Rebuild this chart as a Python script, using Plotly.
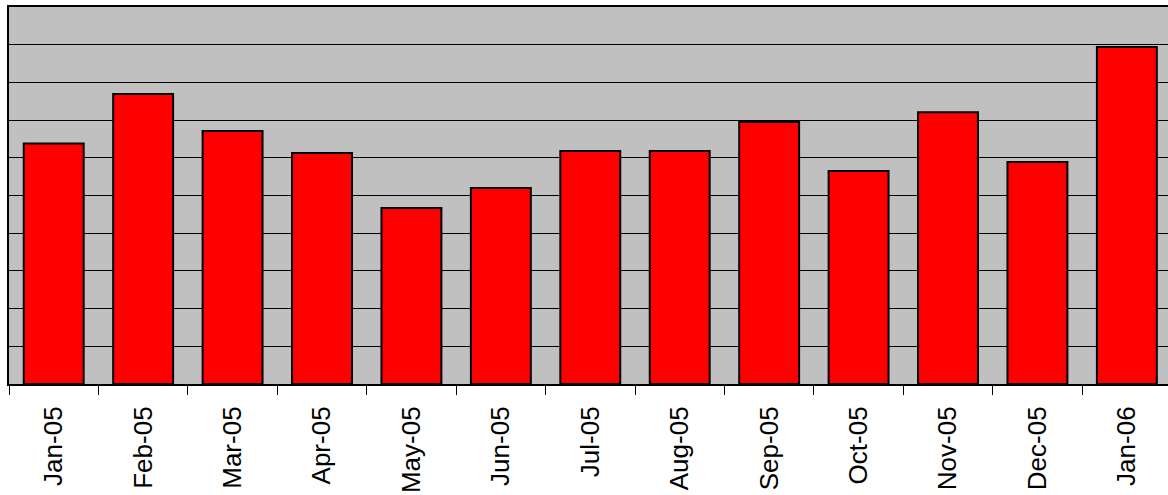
import plotly.graph_objects as go

months = ["Jan-05", "Feb-05", "Mar-05", "Apr-05", "May-05", "Jun-05", "Jul-05",
          "Aug-05", "Sep-05", "Oct-05", "Nov-05", "Dec-05", "Jan-06"]
values = [6.38, 7.69, 6.71, 6.13, 4.67, 5.20, 6.18, 6.18, 6.95, 5.65, 7.21, 5.89, 8.94]

fig = go.Figure(go.Bar(
    x=months, y=values,
    marker=dict(color="#FF0000", line=dict(color="#000000", width=2)),
))

fig.update_layout(
    width=1168, height=495,
    margin=dict(l=9, r=0, t=7, b=111),
    paper_bgcolor="white",
    plot_bgcolor="#C0C0C0",
    bargap=0.33,
    showlegend=False,
    font=dict(family="Liberation Sans, Arial, sans-serif", color="black"),
)
fig.update_xaxes(
    range=[-0.5, 12.46],
    showline=True, linecolor="black", linewidth=2, mirror=True,
    ticks="outside", tickson="boundaries", ticklen=9, tickcolor="black", tickwidth=1,
    tickangle=-90, tickfont=dict(size=26), ticklabelstandoff=10,
    showgrid=False,
)
fig.update_yaxes(
    range=[0, 10], dtick=1,
    showline=True, linecolor="black", linewidth=2,
    showticklabels=False, ticks="",
    showgrid=True, gridcolor="black", gridwidth=1,
    zeroline=False,
)

fig.write_html("out.html")
